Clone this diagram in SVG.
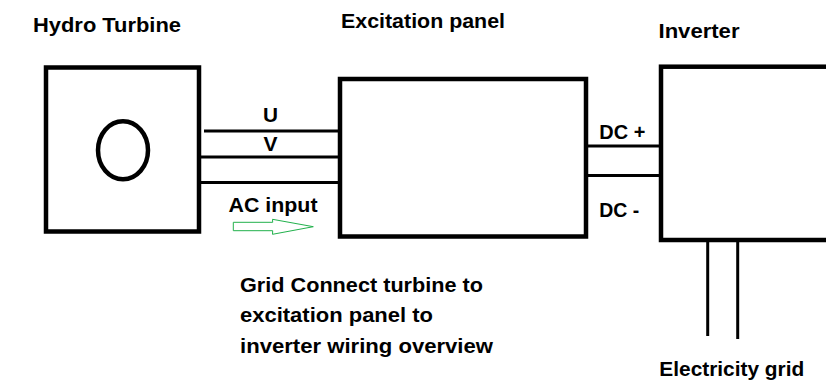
<svg xmlns="http://www.w3.org/2000/svg" width="826" height="380" viewBox="0 0 826 380">
<style>
.box{fill:#fff;stroke:#000;stroke-width:4.5}
.wire{stroke:#000;stroke-width:3;fill:none}
.lbl{font-family:"Liberation Sans",Arial,sans-serif;font-weight:bold;font-size:21px;fill:#000}
</style>
<rect width="826" height="380" fill="#fff"/>
<g id="connectors">
<line class="wire" x1="204" y1="131" x2="339" y2="131"/>
<line class="wire" x1="200" y1="157" x2="340" y2="157"/>
<line class="wire" x1="200" y1="182.5" x2="340" y2="182.5"/>
<line class="wire" x1="587" y1="146" x2="662" y2="146"/>
<line class="wire" x1="587" y1="175.5" x2="662" y2="175.5"/>
<line class="wire" x1="707.7" y1="240" x2="707.7" y2="336"/>
<line class="wire" x1="737.7" y1="240" x2="737.7" y2="339"/>
<text class="lbl" x="263" y="121.5" textLength="15" lengthAdjust="spacingAndGlyphs">U</text>
<text class="lbl" x="263.5" y="150.5" textLength="14" lengthAdjust="spacingAndGlyphs">V</text>
<text class="lbl" x="228.5" y="212.3" textLength="89" lengthAdjust="spacingAndGlyphs">AC input</text>
<polygon points="233.3,222.3 272.7,222.3 272.5,219.3 313.3,226.7 272.5,234.3 272.7,230.7 233.3,230.7" fill="none" stroke="#22b14c" stroke-width="1"/>
<text class="lbl" x="599.3" y="139" textLength="46" lengthAdjust="spacingAndGlyphs">DC +</text>
<text class="lbl" x="599.3" y="217.3" textLength="40" lengthAdjust="spacingAndGlyphs">DC -</text>
</g>
<g id="hydro-turbine">
<rect class="box" x="46" y="67.5" width="153" height="164"/>
<ellipse cx="123" cy="150.3" rx="25" ry="29" fill="none" stroke="#000" stroke-width="4.5"/>
<text class="lbl" x="33" y="31.7" textLength="148" lengthAdjust="spacingAndGlyphs">Hydro Turbine</text>
</g>
<g id="excitation-panel">
<rect class="box" x="340" y="79" width="246" height="157.5"/>
<text class="lbl" x="341" y="28.3" textLength="164" lengthAdjust="spacingAndGlyphs">Excitation panel</text>
</g>
<g id="inverter">
<rect class="box" x="661" y="66.7" width="200" height="173.3"/>
<text class="lbl" x="658.5" y="37.7" textLength="81" lengthAdjust="spacingAndGlyphs">Inverter</text>
</g>
<g id="electricity-grid">
<text class="lbl" x="659.3" y="375.7" textLength="145" lengthAdjust="spacingAndGlyphs">Electricity grid</text>
</g>
<g id="caption">
<text class="lbl" x="240" y="291.7" textLength="243" lengthAdjust="spacingAndGlyphs">Grid Connect turbine to</text>
<text class="lbl" x="240" y="322" textLength="193" lengthAdjust="spacingAndGlyphs">excitation panel to</text>
<text class="lbl" x="240" y="352.5" textLength="253" lengthAdjust="spacingAndGlyphs">inverter wiring overview</text>
</g>
</svg>
